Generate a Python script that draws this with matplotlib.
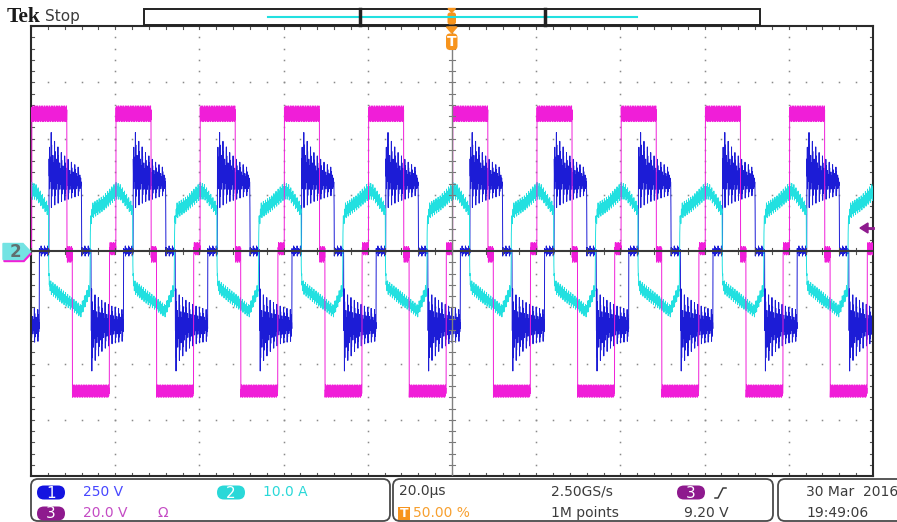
import numpy as np
import matplotlib
matplotlib.use("Agg")
import matplotlib.pyplot as plt
from matplotlib.patches import FancyBboxPatch, Polygon, Rectangle

# ---------------- data ----------------
n_hdiv = 10                 # 10 horizontal divisions (20 us/div)
n_vdiv = 8                  # 8 vertical divisions
trigger_offset_div = 0.01   # magenta rising edge relative to trigger (div)
switching_period_div = 1.0  # one switching period = 1 div = 20 us
sample_step_div = 0.0025

# Channel 3 (magenta, 20 V/div): one period, lower / upper envelope (div)
ch3_phase = [0.000, 0.415, 0.417, 0.480, 0.482, 0.920, 0.922, 0.999]
ch3_lo = [2.30, 2.30, -0.20, -0.20, -2.60, -2.60, -0.07, -0.07]
ch3_hi = [2.58, 2.58, 0.08, 0.08, -2.38, -2.38, 0.15, 0.15]

# Channel 1 (blue, 250 V/div)
ch1_phase = [0.090, 0.203, 0.205, 0.25, 0.35, 0.45, 0.588, 0.592, 0.703, 0.705,
             0.75, 0.85, 0.95, 1.088]
ch1_lo = [-0.09, -0.09, 0.73, 0.80, 0.88, 0.93, 1.00, -0.09, -0.09, -2.17,
          -1.95, -1.75, -1.65, -1.60]
ch1_hi = [0.09, 0.09, 2.24, 2.00, 1.75, 1.60, 1.45, 0.09, 0.09, -0.66,
          -0.78, -0.90, -0.98, -1.05]

# Channel 2 (cyan, 10 A/div)
ch2_phase = [0.200, 0.215, 0.35, 0.50, 0.58, 0.63, 0.690, 0.696, 0.72, 0.85,
             1.00, 1.05, 1.12, 1.195]
ch2_lo = [-0.45, -0.75, -0.92, -1.08, -1.18, -1.00, -0.78, 0.40, 0.58, 0.72,
          0.92, 0.92, 0.78, 0.62]
ch2_hi = [-0.25, -0.52, -0.68, -0.86, -0.96, -0.78, -0.56, 0.58, 0.85, 0.98,
          1.22, 1.18, 1.02, 0.84]

# position of the trace inside its envelope (fixed texture patterns)
ripple_pattern = [1.0, 0.1, 0.75, 0.3, 0.9, 0.0, 0.6, 0.45]
cyan_pattern = [0.8, 0.2, 0.6, 0.4, 1.0, 0.3, 0.7, 0.0, 0.5, 0.35]
ringing_pattern = [1.0, 0.0, 0.85, 0.15, 0.7, 0.3, 0.6, 0.4,
                   0.75, 0.25, 0.55, 0.45, 0.65, 0.35, 0.5, 0.5]

# status bar texts
ch1_scale = "250 V"
ch2_scale = "10.0 A"
ch3_scale = "20.0 V"
time_scale = "20.0\u00b5s"
trig_pos = "50.00 %"
sample_rate = "2.50GS/s"
record_len = "1M points"
trig_level = "9.20 V"
date_txt = "30 Mar  2016"
time_txt = "19:49:06"

C1 = "#1c1cd6"
C2 = "#22e0e0"
C3 = "#f01ed8"
C3DARK = "#8e1a8e"
ORANGE = "#f7941d"
GRAY = "#3c3c3c"

# ---------------- figure ----------------
W, H = 897, 522
fig = plt.figure(figsize=(W / 100, H / 100), dpi=100)
fig.patch.set_facecolor("white")

L, R, T, B = 31, 873, 26, 476
ax = fig.add_axes([L / W, (H - B) / H, (R - L) / W, (B - T) / H])
ax.set_xlim(-n_hdiv / 2, n_hdiv / 2)
ax.set_ylim(-n_vdiv / 2, n_vdiv / 2)
ax.set_xticks([])
ax.set_yticks([])
for s in ax.spines.values():
    s.set_color("#2a2a2a")
    s.set_linewidth(1.5)

t = np.arange(-n_hdiv / 2, n_hdiv / 2 + sample_step_div, sample_step_div)


def trace(phase_pts, lo_pts, hi_pts, pattern):
    p0 = phase_pts[0]
    ph = p0 + np.mod(t - trigger_offset_div - p0, switching_period_div)
    lo = np.interp(ph, phase_pts, lo_pts)
    hi = np.interp(ph, phase_pts, hi_pts)
    frac = np.resize(np.array(pattern), t.size)
    return lo + frac * (hi - lo)


# graticule dots
minor = np.round(np.arange(-4, 4.001, 0.2), 3)
minor_x = np.round(np.arange(-5, 5.001, 0.2), 3)
for k in range(-4, 5):
    if k == 0:
        continue
    ax.plot(np.full(minor.size, k), minor, ls="none", marker="s", ms=1.1,
            mec="none", mfc="#8a8a8a", zorder=1)
for k in range(-3, 4):
    if k == 0:
        continue
    ax.plot(minor_x, np.full(minor_x.size, k), ls="none", marker="s", ms=1.1,
            mec="none", mfc="#8a8a8a", zorder=1)

# border ticks and centre-line ticks
tl_y = 3 / 56.25
tl_x = 3 / 84.2
for x in minor_x:
    ax.plot([x, x], [4, 4 - tl_y], color="#555555", lw=0.8, zorder=1)
    ax.plot([x, x], [-4, -4 + tl_y], color="#555555", lw=0.8, zorder=1)
    ax.plot([x, x], [-tl_y, tl_y], color="#555555", lw=0.8, zorder=6)
for y in minor:
    ax.plot([-5, -5 + tl_x], [y, y], color="#555555", lw=0.8, zorder=1)
    ax.plot([5, 5 - tl_x], [y, y], color="#555555", lw=0.8, zorder=1)
    ax.plot([-tl_x, tl_x], [y, y], color="#777777", lw=0.8, zorder=6)

# traces
ax.plot(t, trace(ch1_phase, ch1_lo, ch1_hi, ringing_pattern), color=C1, lw=0.7, zorder=2)
ax.plot(t, trace(ch2_phase, ch2_lo, ch2_hi, cyan_pattern), color=C2, lw=0.7, zorder=3)
ax.plot(t, trace(ch3_phase, ch3_lo, ch3_hi, ripple_pattern), color=C3, lw=0.7, zorder=4)

# centre lines
ax.axhline(0, color="#3a3a3a", lw=1.5, zorder=6)
ax.axvline(0, color="#808080", lw=1.0, zorder=6)

# ---------------- overlay (pixel coordinates) ----------------
ov = fig.add_axes([0, 0, 1, 1], zorder=10)
ov.set_xlim(0, W)
ov.set_ylim(H, 0)
ov.axis("off")
ov.patch.set_alpha(0)

# top bar
ov.text(7, 16.5, "Tek", fontsize=15.5, fontweight="bold", family="Liberation Serif",
        color="#1a1a1a", va="center", ha="left")
ov.text(45, 16, "Stop", fontsize=11, family="DejaVu Sans", color=GRAY, va="center", ha="left")
ov.add_patch(Rectangle((144, 8.5), 616, 16.5, facecolor="white", edgecolor="#222222", lw=1.4))
ov.plot([268, 637], [16.5, 16.5], color=C2, lw=1.5)
ov.plot([360, 360], [8.5, 25], color="#222222", lw=2.5)
ov.plot([545, 545], [8.5, 25], color="#222222", lw=2.5)
# trigger position markers
ov.add_patch(Polygon([(448, 8.5), (455.5, 8.5), (451.7, 12.5)], closed=True, color=ORANGE))
ov.add_patch(FancyBboxPatch((447.5, 12.5), 8.5, 12, boxstyle="round,pad=0,rounding_size=2.5",
                            facecolor=ORANGE, edgecolor="none"))
ov.add_patch(Polygon([(446.5, 27), (457, 27), (451.7, 33)], closed=True, color=ORANGE))
ov.add_patch(FancyBboxPatch((446, 33.5), 11.5, 16.5, boxstyle="round,pad=0,rounding_size=4",
                            facecolor=ORANGE, edgecolor="none"))
ov.text(451.7, 42, "T", fontsize=10, fontweight="bold", color="white", ha="center", va="center")

# left channel-2 ground marker (ch3 marker behind)
ov.add_patch(Polygon([(4, 246.5), (24, 246.5), (31, 254), (24, 261.5), (4, 261.5)],
                     closed=True, color=C3))
ov.add_patch(Polygon([(3, 243.5), (23, 243.5), (30.5, 251.5), (23, 259.5), (3, 259.5)],
                     closed=True, color="#74e3e3"))
ov.text(15, 252, "2", fontsize=12, fontweight="bold", color="#607070", ha="center", va="center")

# right trigger level arrow
ov.add_patch(Polygon([(860, 228), (868, 223), (868, 233)], closed=True, color=C3DARK))
ov.plot([867, 873], [228, 228], color=C3DARK, lw=2)

# bottom status boxes
for (x0, w) in [(31, 359), (393, 380), (778, 140)]:
    ov.add_patch(FancyBboxPatch((x0, 479), w, 42, boxstyle="round,pad=0,rounding_size=7",
                                facecolor="white", edgecolor="#4a4a4a", lw=1.3))


def pill(x, y, txt, color):
    ov.add_patch(FancyBboxPatch((x, y - 7), 28, 14, boxstyle="round,pad=0,rounding_size=7",
                                facecolor=color, edgecolor="none"))
    ov.text(x + 14, y + 0.5, txt, fontsize=11, color="white", ha="center", va="center")


fs = 10
pill(37, 492.5, "1", "#1414e0")
ov.text(83, 491.5, ch1_scale, fontsize=fs, color="#4848ff", va="center", ha="left")
pill(217, 492.5, "2", "#2ad8d8")
ov.text(263, 491.5, ch2_scale, fontsize=fs, color="#2ad8d8", va="center", ha="left")
pill(37, 513.5, "3", "#8e1a8e")
ov.text(83, 513, ch3_scale, fontsize=fs, color="#c44cc4", va="center", ha="left")
ov.text(157, 513, "\u03a9", fontsize=fs, color="#c44cc4", va="center", ha="left")

ov.text(399, 491.5, time_scale, fontsize=fs, color=GRAY, va="center", ha="left")
ov.add_patch(Rectangle((398, 506.5), 12, 13, facecolor=ORANGE, edgecolor="none"))
ov.text(404, 513.5, "T", fontsize=9, fontweight="bold", color="white", ha="center", va="center")
ov.text(413, 513, trig_pos, fontsize=fs, color="#f7a030", va="center", ha="left")
ov.text(551, 491.5, sample_rate, fontsize=fs, color=GRAY, va="center", ha="left")
ov.text(551, 513, record_len, fontsize=fs, color=GRAY, va="center", ha="left")
pill(677, 492.5, "3", "#8e1a8e")
ov.plot([715, 718, 723, 726], [498, 498, 488, 488], color=GRAY, lw=1.1)
ov.text(684, 513, trig_level, fontsize=fs, color=GRAY, va="center", ha="left")

ov.text(806, 491.5, date_txt, fontsize=fs, color=GRAY, va="center", ha="left")
ov.text(806, 513, time_txt, fontsize=fs, color=GRAY, va="center", ha="left")

fig.savefig("out.png", dpi=100, facecolor="white")
